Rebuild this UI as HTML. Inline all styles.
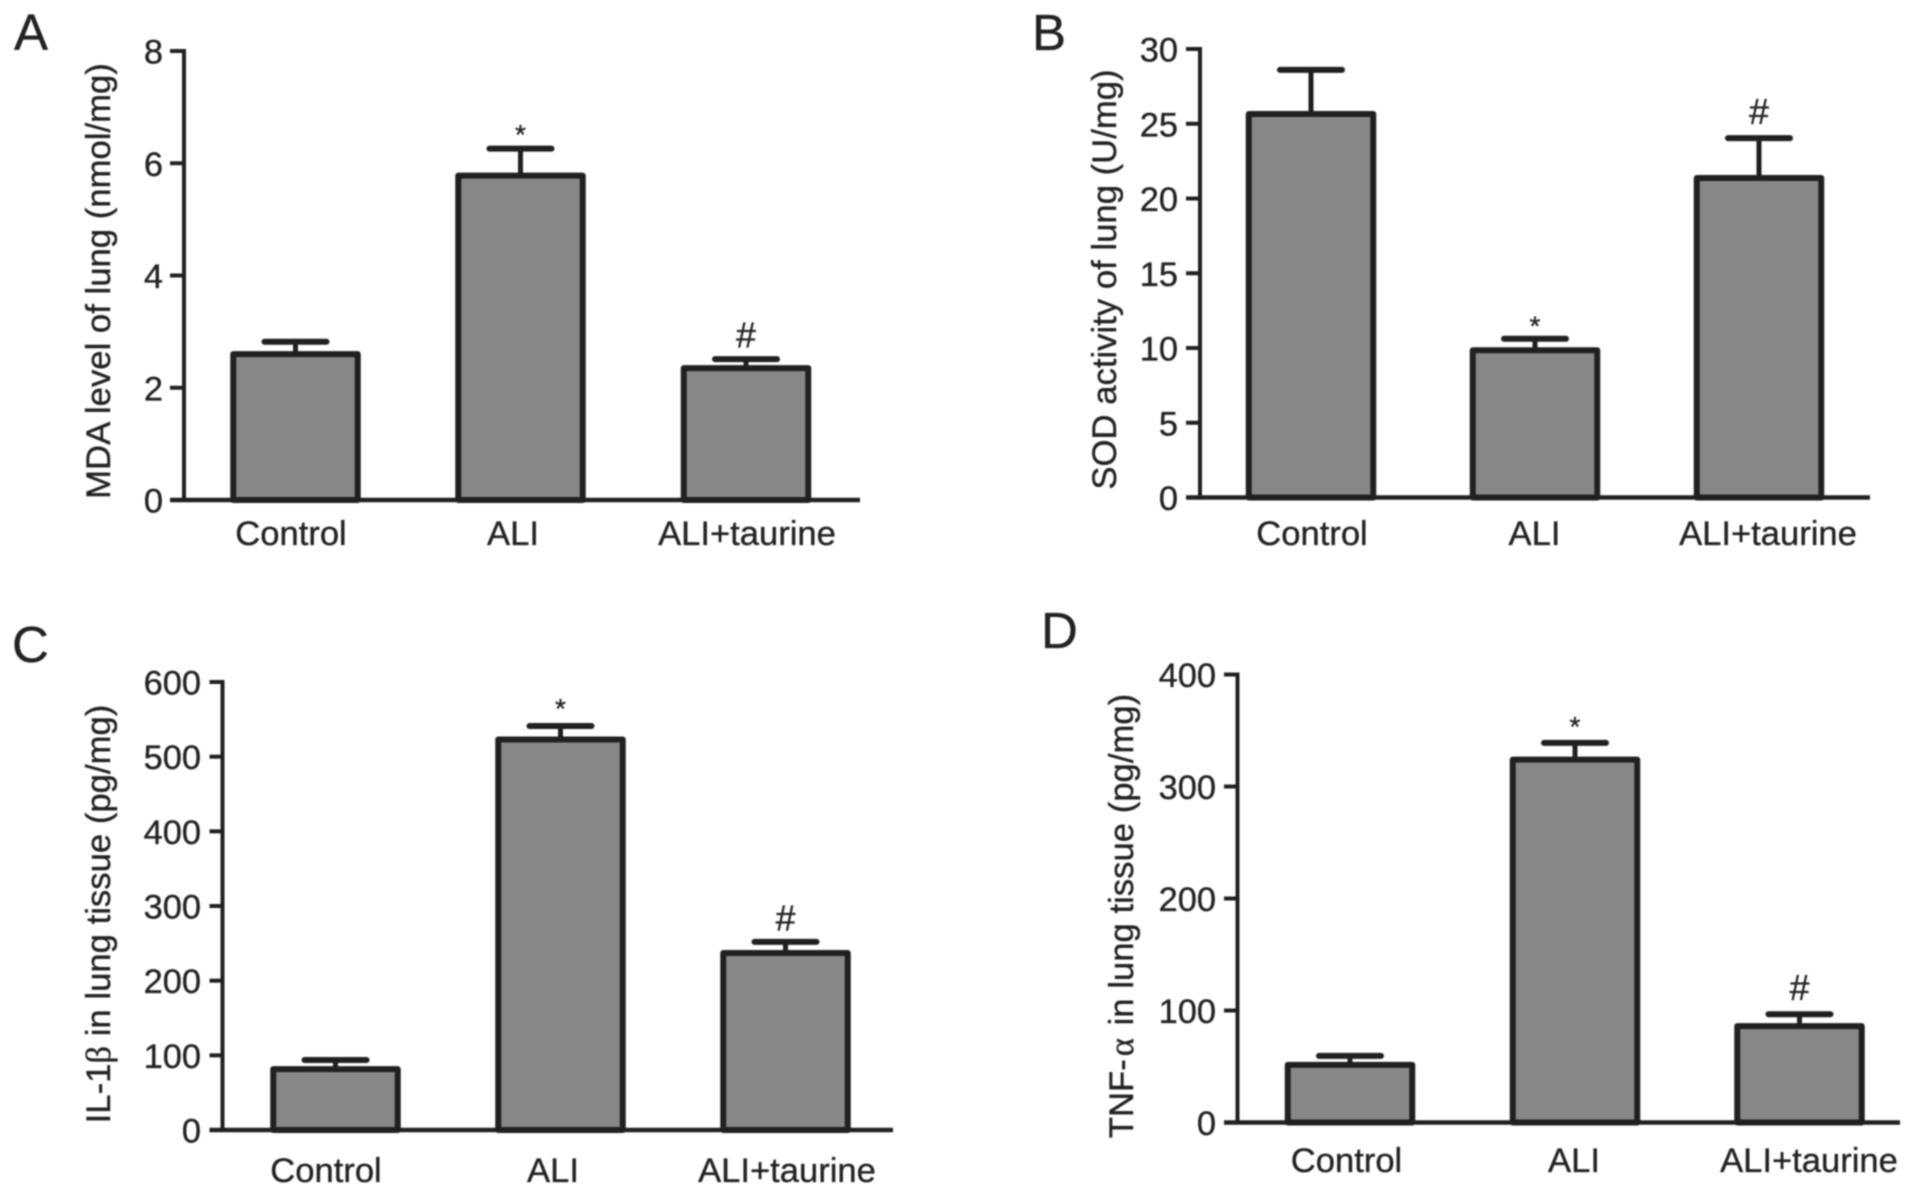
<!DOCTYPE html>
<html lang="en">
<head>
<meta charset="utf-8">
<title>Lung markers bar charts</title>
<style>
  html, body { margin: 0; padding: 0; background: #fff; }
  #figure { display: block; width: 1913px; height: 1194px; filter: blur(0.7px); }
  text { font-family: "Liberation Sans", sans-serif; fill: #222; stroke: #222; stroke-width: 0.35px; }
  .sym { font-family: "Liberation Serif", serif; }
</style>
</head>
<body>
<svg id="figure" xmlns="http://www.w3.org/2000/svg" width="1913" height="1194" viewBox="0 0 1913 1194"></svg>
<script>
// ---- data ----
const categories = ['Control', 'ALI', 'ALI+taurine'];
const markers = ['', '*', '#'];

const mdaTicks = [0, 2, 4, 6, 8];
const mdaMeans = [2.6, 5.78, 2.35];
const mdaErrors = [0.22, 0.48, 0.16];

const sodTicks = [0, 5, 10, 15, 20, 25, 30];
const sodMeans = [25.65, 9.85, 21.37];
const sodErrors = [2.95, 0.77, 2.67];

const il1bTicks = [0, 100, 200, 300, 400, 500, 600];
const il1bMeans = [81.6, 523, 237];
const il1bErrors = [12.2, 18, 15];

const tnfTicks = [0, 100, 200, 300, 400];
const tnfMeans = [51.4, 324, 86];
const tnfErrors = [8.1, 15, 10.7];

// ---- panel layout ----
const panels = [
  { id: 'a', letter: 'A', letterX: 14, letterY: 50, title: 'MDA level of lung (nmol/mg)', symGap: 0,
    ticks: mdaTicks, means: mdaMeans, errors: mdaErrors,
    axisX: 184, top: 51, base: 500, tickX: 170, endX: 860, tickLabelX: 163, titleX: 110, titleY: 281,
    barCenters: [295.5, 520.5, 746], labelX: [291, 513, 747], labelY: 545, starGap: 4.5, hashGap: 11.5 },
  { id: 'b', letter: 'B', letterX: 1032, letterY: 50, title: 'SOD activity of lung (U/mg)', symGap: 0,
    ticks: sodTicks, means: sodMeans, errors: sodErrors,
    axisX: 1200, top: 49, base: 497.5, tickX: 1186, endX: 1870, tickLabelX: 1178, titleX: 1116, titleY: 279.5,
    barCenters: [1311, 1535, 1759], labelX: [1312, 1534.5, 1768], labelY: 545, starGap: 3, hashGap: 14 },
  { id: 'c', letter: 'C', letterX: 12, letterY: 662, title: ['IL-1', 'β', ' in lung tissue (pg/mg)'], symGap: 0,
    ticks: il1bTicks, means: il1bMeans, errors: il1bErrors,
    axisX: 222.5, top: 682, base: 1130, tickX: 209.5, endX: 893, tickLabelX: 201, titleX: 110, titleY: 914,
    barCenters: [335.5, 560.5, 785.5], labelX: [326, 553, 787], labelY: 1182, starGap: 8, hashGap: 11.5 },
  { id: 'd', letter: 'D', letterX: 1041, letterY: 648, title: ['TNF-', 'α', ' in lung tissue (pg/mg)'], symGap: 3,
    ticks: tnfTicks, means: tnfMeans, errors: tnfErrors,
    axisX: 1237.5, top: 674.5, base: 1122.5, tickX: 1224, endX: 1900, tickLabelX: 1216, titleX: 1133, titleY: 916,
    barCenters: [1350, 1575, 1799.5], labelX: [1346.5, 1574, 1809], labelY: 1172, starGap: 7, hashGap: 14 }
];

const INK = '#202020';
const FILL = '#888888';
const BAR_OUTER = 130.5;
const BAR_STROKE = 6;
const CAP_HALF = 31;

const svg = document.getElementById('figure');
const NS = 'http://www.w3.org/2000/svg';

function make(tag, parent, attrs) {
  const node = document.createElementNS(NS, tag);
  for (const key in attrs) node.setAttribute(key, attrs[key]);
  parent.appendChild(node);
  return node;
}
function line(parent, x1, y1, x2, y2, width, cap) {
  return make('line', parent, { x1, y1, x2, y2, stroke: INK, 'stroke-width': width, 'stroke-linecap': cap || 'butt' });
}

panels.forEach(function (p) {
  const g = make('g', svg, {});
  
  

  const maxTick = p.ticks[p.ticks.length - 1];
  const yScale = function (v) { return p.base - (v / maxTick) * (p.base - p.top); };

  const letter = make('text', g, { x: p.letterX, y: p.letterY, 'font-size': 51 });
  letter.textContent = p.letter;
  
  

  const title = make('text', g, {
    x: 0, y: 0, 'font-size': 34.7, 'text-anchor': 'middle',
    transform: 'translate(' + p.titleX + ',' + p.titleY + ') rotate(-90)'
  });
  if (Array.isArray(p.title)) {
    p.title.forEach(function (part, i) {
      const attrs = i === 1 ? { class: 'sym', dx: p.symGap } : (i === 2 ? { dx: p.symGap } : {});
      const span = make('tspan', title, attrs);
      span.textContent = part;
    });
  } else {
    title.textContent = p.title;
  }
  
  

  p.means.forEach(function (mean, i) {
    const cx = p.barCenters[i];
    const yMean = yScale(mean);
    const yCap = yScale(mean + p.errors[i]);

    const stem = line(g, cx, yMean, cx, yCap, 5);
    
    

    const cap = line(g, cx - CAP_HALF, yCap, cx + CAP_HALF, yCap, 6, 'round');
    
    

    const bar = make('rect', g, {
      x: cx - (BAR_OUTER - BAR_STROKE) / 2, y: yMean,
      width: BAR_OUTER - BAR_STROKE, height: p.base - yMean,
      fill: FILL, stroke: INK, 'stroke-width': BAR_STROKE, 'stroke-linejoin': 'round'
    });
    
    

    if (markers[i]) {
      const isStar = markers[i] === '*';
      const mark = make('text', g, {
        x: cx, y: yCap - (isStar ? p.starGap : p.hashGap),
        'font-size': isStar ? 28 : 36, 'text-anchor': 'middle'
      });
      mark.textContent = markers[i];
      
      
    }

    const label = make('text', g, { x: p.labelX[i], y: p.labelY, 'font-size': 34.6, 'text-anchor': 'middle' });
    label.textContent = categories[i];
    
    
  });

  const yAxis = line(g, p.axisX, p.top - 2, p.axisX, p.base, 4);
  
  

  const xAxis = line(g, p.tickX, p.base, p.endX, p.base, 4.5);
  
  

  p.ticks.forEach(function (t) {
    const y = yScale(t);
    const tick = line(g, p.tickX, y, p.axisX, y, 4);
    
    

    const lab = make('text', g, { x: p.tickLabelX, y: y + 12.5, 'font-size': 34.4, 'text-anchor': 'end' });
    lab.textContent = String(t);
    
    
  });
});
</script>
</body>
</html>
